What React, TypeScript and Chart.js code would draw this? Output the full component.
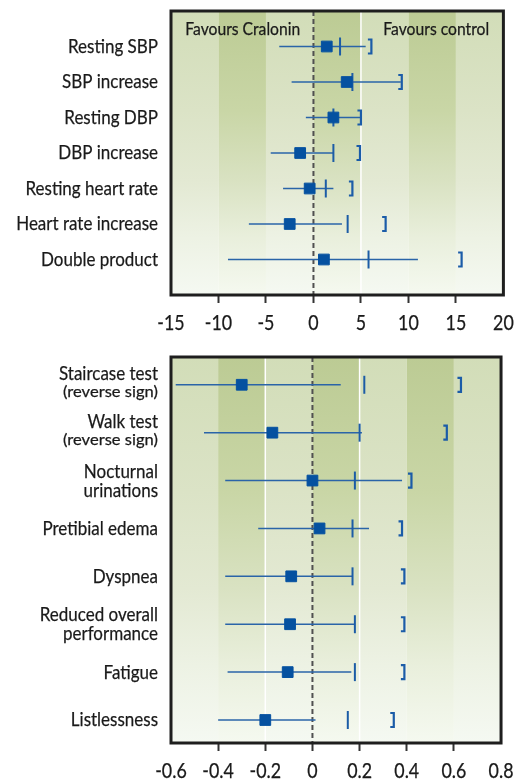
import { useEffect, useRef } from 'react';
import { Chart, registerables } from 'chart.js';
Chart.register(...registerables);

const FONT = 'Lato, "Open Sans", sans-serif';

// ---- Top panel data ----
const topLabels: string[][] = [
  ['Resting SBP'], ['SBP increase'], ['Resting DBP'], ['DBP increase'],
  ['Resting heart rate'], ['Heart rate increase'], ['Double product'],
];
const topEstimate = [1.4, 3.5, 2.1, -1.4, -0.4, -2.5, 1.1];
const topLower = [-3.6, -2.3, -0.8, -4.5, -3.2, -6.8, -9.0];
const topUpper = [5.5, 9.2, 4.9, 2.1, 2.1, 3.0, 11.0];
const topMarker = [2.8, 4.1, 2.1, 2.1, 1.3, 3.6, 5.8];
const topBracket = [6.1, 9.3, 5.0, 4.9, 4.1, 7.6, 15.6];
const topTicks = [-15, -10, -5, 0, 5, 10, 15, 20];

// ---- Bottom panel data ----
const botLabels: string[][] = [
  ['Staircase test', '(reverse sign)'], ['Walk test', '(reverse sign)'],
  ['Nocturnal', 'urinations'], ['Pretibial edema'], ['Dyspnea'],
  ['Reduced overall', 'performance'], ['Fatigue'], ['Listlessness'],
];
const botEstimate = [-0.30, -0.17, 0.0, 0.03, -0.09, -0.095, -0.105, -0.20];
const botLower = [-0.58, -0.46, -0.37, -0.23, -0.37, -0.37, -0.36, -0.40];
const botUpper = [0.12, 0.21, 0.38, 0.24, 0.17, 0.18, 0.165, 0.013];
const botMarker = [0.22, 0.20, 0.18, 0.17, 0.17, 0.18, 0.18, 0.15];
const botBracket = [0.63, 0.57, 0.42, 0.38, 0.39, 0.39, 0.39, 0.345];
const botTicks = [-0.6, -0.4, -0.2, 0, 0.2, 0.4, 0.6, 0.8];

const headerLeft = 'Favours Cralonin';
const headerRight = 'Favours control';

interface PanelCfg {
  labels: string[][];
  est: number[];
  lo: number[];
  hi: number[];
  mark: number[];
  brk: number[];
  ticks: number[];
  whiteLines: number[];
  yMin: number;
  yMax: number;
  header: boolean;
  padTop: number;
  padBottom: number;
}

function fmtTick(n: number) {
  if (Math.abs(n) < 1e-9) return '0';
  return Number.isInteger(n) ? String(n) : n.toFixed(1);
}

function textScale(ctx: CanvasRenderingContext2D, font: string, sample: string, target: number) {
  ctx.save();
  ctx.font = font;
  const w = ctx.measureText(sample).width;
  ctx.restore();
  return w > 0 ? target / w : 1;
}

function drawScaled(ctx: CanvasRenderingContext2D, text: string, x: number, y: number, align: CanvasTextAlign, sx: number) {
  ctx.save();
  ctx.translate(x, y);
  ctx.scale(sx, 1);
  ctx.textAlign = align;
  ctx.fillText(text, 0, 0);
  ctx.lineWidth = 0.25;
  ctx.strokeStyle = ctx.fillStyle as string;
  ctx.strokeText(text, 0, 0);
  ctx.restore();
}

function makeChart(canvas: HTMLCanvasElement, cfg: PanelCfg) {
  const xMin = cfg.ticks[0];
  const xMax = cfg.ticks[cfg.ticks.length - 1];
  const step = cfg.ticks[1] - cfg.ticks[0];

  const plugin = {
    id: 'forest',
    beforeDraw(chart: any) {
      const { ctx, chartArea, scales } = chart;
      const { top, bottom } = chartArea;
      const x = scales.x;
      ctx.save();
      for (let i = 0; i < cfg.ticks.length - 1; i++) {
        const px0 = x.getPixelForValue(cfg.ticks[i]);
        const px1 = x.getPixelForValue(cfg.ticks[i + 1]);
        const dark = i % 2 === 1;
        const g = ctx.createLinearGradient(0, top, 0, bottom);
        if (dark) {
          g.addColorStop(0, '#bccb94');
          g.addColorStop(0.35, '#c9d6a6');
          g.addColorStop(0.6, '#d9e2c2');
          g.addColorStop(0.8, '#e9efdc');
          g.addColorStop(1, '#f5f9f0');
        } else {
          g.addColorStop(0, '#d2ddb8');
          g.addColorStop(0.35, '#dbe3c6');
          g.addColorStop(0.6, '#e3e9d3');
          g.addColorStop(0.8, '#edf2e4');
          g.addColorStop(1, '#f5f9f2');
        }
        ctx.fillStyle = g;
        ctx.fillRect(px0, top, px1 - px0, bottom - top);
      }
      ctx.restore();
    },
    beforeDatasetsDraw(chart: any) {
      const { ctx, chartArea, scales } = chart;
      const { top, bottom } = chartArea;
      const x = scales.x;
      const y = scales.y;
      ctx.save();
      ctx.strokeStyle = '#ffffff';
      ctx.lineWidth = 1.5;
      cfg.whiteLines.forEach((v) => {
        const px = x.getPixelForValue(v);
        ctx.beginPath();
        ctx.moveTo(px, top);
        ctx.lineTo(px, bottom);
        ctx.stroke();
      });
      ctx.strokeStyle = '#505050';
      ctx.lineWidth = 2;
      ctx.setLineDash([5, 3]);
      const zx = x.getPixelForValue(0);
      ctx.beginPath();
      ctx.moveTo(zx, top);
      ctx.lineTo(zx, bottom);
      ctx.stroke();
      ctx.setLineDash([]);
      ctx.strokeStyle = '#2a64a8';
      ctx.lineWidth = 1.5;
      cfg.est.forEach((_, i) => {
        const py = y.getPixelForValue(i + 1);
        ctx.beginPath();
        ctx.moveTo(x.getPixelForValue(cfg.lo[i]), py);
        ctx.lineTo(x.getPixelForValue(cfg.hi[i]), py);
        ctx.stroke();
      });
      ctx.strokeStyle = '#1b5ca8';
      ctx.lineWidth = 2.2;
      cfg.brk.forEach((v, i) => {
        const py = y.getPixelForValue(i + 1);
        const px = x.getPixelForValue(v);
        ctx.beginPath();
        ctx.moveTo(px - 3.5, py - 7);
        ctx.lineTo(px, py - 7);
        ctx.lineTo(px, py + 7);
        ctx.lineTo(px - 3.5, py + 7);
        ctx.stroke();
      });
      ctx.restore();
    },
    afterDraw(chart: any) {
      const { ctx, chartArea, scales } = chart;
      const { left, right, top, bottom } = chartArea;
      const x = scales.x;
      const y = scales.y;
      ctx.save();
      ctx.strokeStyle = '#1e1e1e';
      ctx.lineWidth = 3;
      ctx.strokeRect(left, top, right - left, bottom - top);

      const mainFont = `20px ${FONT}`;
      const subFont = `16px ${FONT}`;
      const sx = textScale(ctx, mainFont, 'Resting SBP', 90);
      const sxSub = textScale(ctx, subFont, '(reverse sign)', 95);

      ctx.fillStyle = '#1a1a1a';
      ctx.textBaseline = 'middle';
      const lx = left - 13;
      cfg.labels.forEach((lines, i) => {
        const py = y.getPixelForValue(i + 1);
        if (lines.length === 1) {
          ctx.font = mainFont;
          drawScaled(ctx, lines[0], lx, py, 'right', sx);
        } else if (lines[1].startsWith('(')) {
          ctx.font = mainFont;
          drawScaled(ctx, lines[0], lx, py - 11, 'right', sx);
          ctx.font = subFont;
          drawScaled(ctx, lines[1], lx, py + 7, 'right', sxSub);
        } else {
          ctx.font = mainFont;
          drawScaled(ctx, lines[0], lx, py - 9.5, 'right', sx);
          drawScaled(ctx, lines[1], lx, py + 9.5, 'right', sx);
        }
      });

      const tickFont = `21px ${FONT}`;
      ctx.font = tickFont;
      cfg.ticks.forEach((v) => {
        drawScaled(ctx, fmtTick(v), x.getPixelForValue(v), bottom + 28.5, 'center', sx);
      });

      if (cfg.header) {
        const hFont = `18px ${FONT}`;
        const sxH = textScale(ctx, hFont, headerLeft, 115);
        ctx.font = hFont;
        const hy = y.getPixelForValue(0.5);
        drawScaled(ctx, headerLeft, x.getPixelForValue(xMin + step * 0.3), hy, 'left', sxH);
        drawScaled(ctx, headerRight, x.getPixelForValue(xMax - step * 0.3), hy, 'right', sxH);
      }
      ctx.restore();
    },
  };

  return new Chart(canvas, {
    type: 'scatter',
    data: {
      datasets: [
        {
          data: cfg.est.map((v, i) => ({ x: v, y: i + 1 })),
          pointStyle: 'rect',
          pointRadius: 7.6,
          backgroundColor: '#0551a0',
          borderColor: '#0551a0',
          borderWidth: 1,
        },
        {
          data: cfg.mark.map((v, i) => ({ x: v, y: i + 1 })),
          pointStyle: 'line',
          rotation: 90,
          pointRadius: 9,
          borderColor: '#1c5ca6',
          borderWidth: 2,
        },
      ],
    },
    options: {
      animation: false,
      responsive: false,
      maintainAspectRatio: false,
      layout: { padding: { left: 171, right: 16, top: cfg.padTop, bottom: cfg.padBottom } },
      plugins: { legend: { display: false }, tooltip: { enabled: false } },
      scales: {
        x: {
          type: 'linear',
          min: xMin,
          max: xMax,
          afterBuildTicks: (axis: any) => {
            axis.ticks = cfg.ticks.map((v) => ({ value: v }));
          },
          afterFit: (axis: any) => {
            axis.height = 40;
          },
          ticks: {
            font: { family: FONT, size: 20 },
            color: 'rgba(0,0,0,0)',
            padding: 7,
            maxRotation: 0,
            autoSkip: false,
            callback: (v: any) => fmtTick(Number(v)),
          },
          grid: {
            drawOnChartArea: false,
            drawTicks: true,
            tickLength: 8,
            tickWidth: 2,
            tickColor: (c: any) =>
              c.index === 0 || c.index === cfg.ticks.length - 1 ? 'rgba(0,0,0,0)' : '#333333',
          },
          border: { display: false },
        },
        y: {
          type: 'linear',
          min: cfg.yMin,
          max: cfg.yMax,
          reverse: true,
          display: false,
        },
      },
    },
    plugins: [plugin],
  } as any);
}

export default function App() {
  const topRef = useRef<HTMLCanvasElement>(null);
  const botRef = useRef<HTMLCanvasElement>(null);

  useEffect(() => {
    const c1 = makeChart(topRef.current!, {
      labels: topLabels, est: topEstimate, lo: topLower, hi: topUpper,
      mark: topMarker, brk: topBracket, ticks: topTicks, whiteLines: [5],
      yMin: 0, yMax: 8, header: true, padTop: 7, padBottom: 5,
    });
    const c2 = makeChart(botRef.current!, {
      labels: botLabels, est: botEstimate, lo: botLower, hi: botUpper,
      mark: botMarker, brk: botBracket, ticks: botTicks, whiteLines: [-0.2, 0.2],
      yMin: 0.42, yMax: 8.48, header: false, padTop: 17, padBottom: 0,
    });
    return () => {
      c1.destroy();
      c2.destroy();
    };
  }, []);

  return (
    <div style={{ position: 'fixed', left: 0, top: 0, width: 522, height: 783, background: '#fff' }}>
      <canvas ref={topRef} width={522} height={340}
        style={{ position: 'absolute', left: 0, top: 0, width: 522, height: 340 }} />
      <canvas ref={botRef} width={522} height={443}
        style={{ position: 'absolute', left: 0, top: 340, width: 522, height: 443 }} />
    </div>
  );
}
